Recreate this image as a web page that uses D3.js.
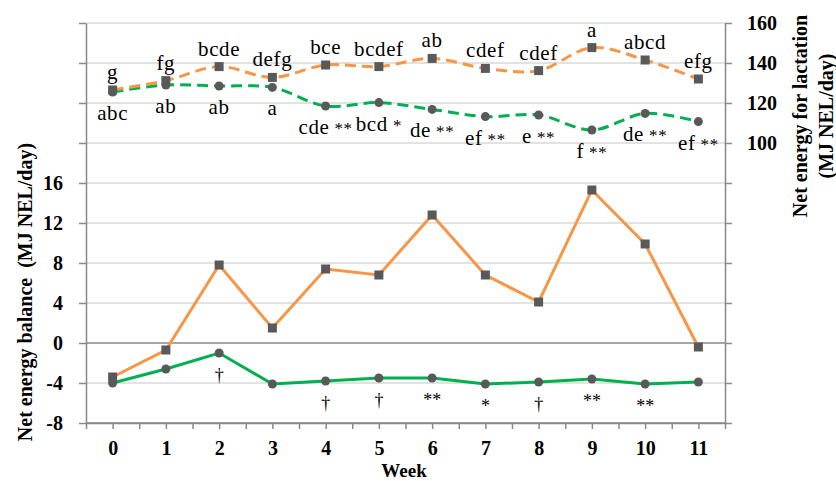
<!DOCTYPE html>
<html>
<head>
<meta charset="utf-8">
<script src="https://cdn.jsdelivr.net/npm/d3@7"></script>
<style>
  body { margin: 0; background: #fff; }
  svg { display: block; }
</style>
</head>
<body>
<script>
// weeks on the x axis
var weeks = [0, 1, 2, 3, 4, 5, 6, 7, 8, 9, 10, 11];

// net energy balance (left axis), solid lines
var nebOrange = [-3.4, -0.7, 7.8, 1.5, 7.4, 6.8, 12.8, 6.8, 4.1, 15.3, 9.9, -0.4];
var nebGreen = [-4.0, -2.6, -1.0, -4.1, -3.8, -3.5, -3.5, -4.1, -3.9, -3.6, -4.1, -3.9];

// net energy for lactation (right axis), dashed lines
var nelOrange = [126.5, 131.2, 138.2, 132.8, 139, 138.2, 142.3, 137.3, 136.2, 147.7, 141.5, 132];
var nelGreen = [125.5, 129, 128.5, 127.8, 118.5, 120.2, 116.8, 113.2, 114, 106.5, 114.8, 110.7];

// letters and significance marks
var nelOrangeLabels = ["g", "fg", "bcde", "defg", "bce", "bcdef", "ab", "cdef", "cdef", "a", "abcd", "efg"];
var nelGreenLetters = ["abc", "ab", "ab", "a", "cde", "bcd", "de", "ef", "e", "f", "de", "ef"];
var nelGreenStars = ["", "", "", "", "**", "*", "**", "**", "**", "**", "**", "**"];
var nebMarks = ["", "", "\u2020", "", "\u2020", "\u2020", "**", "*", "\u2020", "**", "**", ""];

// tick values
var leftTicks = [-8, -4, 0, 4, 8, 12, 16, 20, 24, 28, 32];
var rightTicks = [-40, -20, 0, 20, 40, 60, 80, 100, 120, 140, 160];

var W = 836, H = 481;
var plot = { left: 86, right: 725, top: 23, bottom: 423 };

var orange = "#f79646", green = "#00b050", markerCol = "#595959";
var gridCol = "#d9d9d9", axisCol = "#898989";
var serif = "'Liberation Serif', 'Times New Roman', serif";

var svg = d3.select("body").append("svg")
  .attr("width", W)
  .attr("height", H)
  .style("font-family", serif);

var x = d3.scaleLinear()
  .domain([-0.5, 11.5])
  .range([plot.left, plot.right]);

var yL = d3.scaleLinear()
  .domain([-8, 32])
  .range([plot.bottom, plot.top]);

var yR = d3.scaleLinear()
  .domain([-40, 160])
  .range([plot.bottom, plot.top]);

// gridlines
svg.append("g")
  .selectAll("line")
  .data(leftTicks)
  .enter().append("line")
  .attr("x1", plot.left)
  .attr("x2", plot.right)
  .attr("y1", function(d) { return yL(d); })
  .attr("y2", function(d) { return yL(d); })
  .attr("stroke", function(d) { return d == 0 || d == -8 ? axisCol : gridCol; })
  .attr("stroke-width", 1.5);

// left axis
var leftAxis = svg.append("g")
  .attr("transform", "translate(" + plot.left + ",0)")
  .call(d3.axisLeft(yL)
    .tickValues(leftTicks)
    .tickSize(7)
    .tickSizeOuter(0)
    .tickPadding(16)
    .tickFormat(function(d) { return d <= 16 ? d : ""; }));

// right axis
var rightAxis = svg.append("g")
  .attr("transform", "translate(" + plot.right + ",0)")
  .call(d3.axisRight(yR)
    .tickValues(rightTicks)
    .tickSize(7)
    .tickSizeOuter(0)
    .tickPadding(15)
    .tickFormat(function(d) { return d >= 100 ? d : ""; }));

// bottom axis, ticks at each week and between weeks
var bottomAxis = svg.append("g")
  .attr("transform", "translate(0," + plot.bottom + ")")
  .call(d3.axisBottom(x)
    .tickValues(d3.range(-0.5, 11.6, 0.5))
    .tickSize(6)
    .tickSizeOuter(0)
    .tickPadding(12)
    .tickFormat(function(d) { return Number.isInteger(d) ? d : ""; }));

[leftAxis, rightAxis, bottomAxis].forEach(function(a) {
  a.attr("font-family", null);
  a.select(".domain").attr("stroke", axisCol).attr("stroke-width", 1.5);
  a.selectAll(".tick line").attr("stroke", axisCol).attr("stroke-width", 1.5);
  a.selectAll(".tick text")
    .style("font-family", serif)
    .style("font-weight", "bold")
    .style("font-size", "20px")
    .attr("fill", "#000");
});

// axis titles
function title(tx, ty, rot, str, size) {
  svg.append("text")
    .attr("transform", "translate(" + tx + "," + ty + ")" + (rot ? " rotate(-90)" : ""))
    .attr("dy", rot ? "0.35em" : null)
    .attr("text-anchor", "middle")
    .style("font-family", serif)
    .style("font-size", size + "px")
    .style("font-weight", "bold")
    .style("white-space", "pre")
    .text(str);
}
title(25, 292, true, "Net energy balance  (MJ NEL/day)", 20);
title(800, 116, true, "Net energy for lactation", 20);
title(826, 116, true, "(MJ NEL/day)", 20);
title(404, 477, false, "Week", 19);

// series
function drawSeries(values, yScale, color, dashed, smooth, shape) {
  var line = d3.line()
    .x(function(d, i) { return x(weeks[i]); })
    .y(function(d) { return yScale(d); })
    .curve(smooth ? d3.curveCatmullRom.alpha(0.5) : d3.curveLinear);

  svg.append("path")
    .datum(values)
    .attr("d", line)
    .attr("fill", "none")
    .attr("stroke", color)
    .attr("stroke-width", 3)
    .attr("stroke-dasharray", dashed ? "11,6" : null);

  var g = svg.append("g");
  if (shape == "square") {
    g.selectAll("rect")
      .data(values)
      .enter().append("rect")
      .attr("x", function(d, i) { return x(weeks[i]) - 4.5; })
      .attr("y", function(d) { return yScale(d) - 4.5; })
      .attr("width", 9)
      .attr("height", 9)
      .attr("fill", markerCol);
  } else {
    g.selectAll("circle")
      .data(values)
      .enter().append("circle")
      .attr("cx", function(d, i) { return x(weeks[i]); })
      .attr("cy", function(d) { return yScale(d); })
      .attr("r", 4.5)
      .attr("fill", markerCol);
  }
}

drawSeries(nelGreen, yR, green, true, true, "circle");
drawSeries(nelOrange, yR, orange, true, true, "square");
drawSeries(nebGreen, yL, green, false, false, "circle");
drawSeries(nebOrange, yL, orange, false, false, "square");

// letter labels above the orange dashed line
svg.append("g")
  .selectAll("text")
  .data(nelOrangeLabels)
  .enter().append("text")
  .attr("x", function(d, i) { return x(weeks[i]); })
  .attr("y", function(d, i) { return yR(nelOrange[i]) - 11; })
  .attr("text-anchor", "middle")
  .style("font-size", "21px")
  .style("letter-spacing", "0.6px")
  .text(function(d) { return d; });

// letters and stars below the green dashed line
var gl = svg.append("g")
  .selectAll("text")
  .data(nelGreenLetters)
  .enter().append("text")
  .attr("x", function(d, i) { return x(weeks[i]); })
  .attr("y", function(d, i) { return yR(nelGreen[i]) + 28; })
  .attr("text-anchor", "middle")
  .style("font-size", "21px")
  .style("letter-spacing", "0.6px");
gl.append("tspan")
  .text(function(d) { return d; });
gl.append("tspan")
  .attr("dx", function(d, i) { return nelGreenStars[i] ? 5 : 0; })
  .style("font-size", "17px")
  .text(function(d, i) { return nelGreenStars[i]; });

// significance marks below the solid green line
svg.append("g")
  .selectAll("text")
  .data(nebMarks)
  .enter().append("text")
  .attr("x", function(d, i) { return x(weeks[i]); })
  .attr("y", function(d, i) { return yL(nebGreen[i]) + 28; })
  .attr("text-anchor", "middle")
  .style("font-size", "18px")
  .attr("fill", "#000")
  .text(function(d) { return d; });
</script>
</body>
</html>
